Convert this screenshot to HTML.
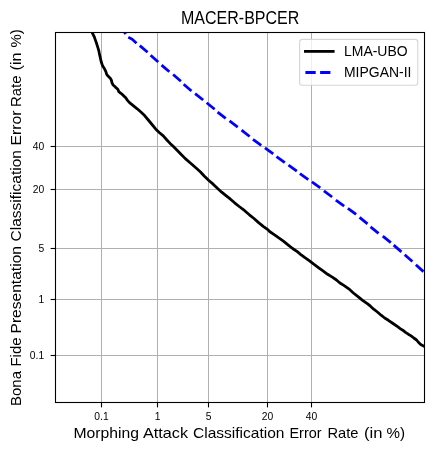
<!DOCTYPE html>
<html><head><meta charset="utf-8"><style>
html,body{margin:0;padding:0;background:#fff;}
svg{display:block;will-change:transform;}
text{font-family:"Liberation Sans", sans-serif;}
</style></head><body>
<svg width="434" height="451" viewBox="0 0 434 451">
<rect x="0" y="0" width="434" height="451" fill="#fff"/>
<defs><clipPath id="ax"><rect x="55.5" y="32.5" width="369.0" height="370.0"/></clipPath></defs>

<g stroke="#b0b0b0" stroke-width="1"><line x1="101.5" y1="32.5" x2="101.5" y2="402.5"/><line x1="157.5" y1="32.5" x2="157.5" y2="402.5"/><line x1="208.5" y1="32.5" x2="208.5" y2="402.5"/><line x1="267.5" y1="32.5" x2="267.5" y2="402.5"/><line x1="311.5" y1="32.5" x2="311.5" y2="402.5"/><line x1="55.5" y1="146.5" x2="424.5" y2="146.5"/><line x1="55.5" y1="189.5" x2="424.5" y2="189.5"/><line x1="55.5" y1="248.5" x2="424.5" y2="248.5"/><line x1="55.5" y1="299.5" x2="424.5" y2="299.5"/><line x1="55.5" y1="355.5" x2="424.5" y2="355.5"/></g>
<g clip-path="url(#ax)"><polyline points="91.60,30.00 92.30,32.80 94.30,36.90 95.50,40.40 96.70,43.80 97.80,47.30 98.80,50.70 99.50,54.20 100.30,57.80 100.90,60.50 101.70,63.30 102.70,66.10 104.50,68.80 105.85,71.60 106.70,74.40 108.50,76.60 110.50,78.60 111.50,80.50 111.90,82.60 112.90,84.70 115.40,87.10 117.80,89.20 118.80,91.60 120.90,93.30 123.30,95.40 125.70,97.80 127.50,100.40 129.50,102.60 131.70,104.40 137.20,108.80 140.90,112.00 144.60,115.60 148.30,120.00 152.00,124.50 155.60,128.90 159.50,132.70 163.30,135.90 166.90,140.00 170.10,143.40 173.40,146.60 177.10,150.30 181.20,154.40 185.30,158.60 189.50,162.30 194.10,166.30 197.80,169.50 200.50,172.00 204.20,176.00 208.60,180.20 213.40,184.40 217.10,188.00 221.70,192.20 226.30,195.90 230.50,199.20 234.60,202.80 239.20,206.50 244.70,210.70 249.40,214.80 254.00,218.50 258.60,222.60 263.20,226.30 267.80,229.60 269.60,231.50 274.20,234.70 278.80,237.90 283.40,241.10 288.00,244.80 292.60,248.50 297.30,251.70 300.50,254.30 304.60,257.40 309.20,260.60 313.80,264.20 318.40,267.60 323.00,270.90 327.60,274.30 332.30,277.10 336.50,280.00 339.60,282.80 344.20,285.60 348.80,288.80 353.40,293.00 358.00,296.70 362.60,300.30 367.30,303.60 370.50,306.20 373.70,309.20 377.40,312.00 381.10,315.20 384.70,318.00 388.40,320.30 393.00,323.50 397.60,326.70 400.20,328.60 402.80,330.20 405.50,332.40 408.30,334.20 411.10,335.90 413.80,338.00 416.60,340.00 418.70,342.60 420.70,344.50 423.50,345.90 426.00,347.20" fill="none" stroke="#000" stroke-width="2.78" stroke-linejoin="round" stroke-linecap="butt"/>
<g stroke="#0000ff" stroke-width="2.78" stroke-linecap="butt" stroke-linejoin="round" fill="none"><path d="M120.46,25.20L125.60,34.10"/><path d="M128.3,37.35L132.2,39.3L136.5,43.2"/><path d="M139.79,45.61L147.61,52.29"/><path d="M150.57,55.22L158.23,62.08"/><path d="M161.54,65.07L169.36,71.73"/><path d="M173.12,74.53L180.88,81.27"/><path d="M183.64,84.26L191.46,90.94"/><path d="M195.08,93.60L203.12,100.00"/><path d="M206.67,102.75L214.63,109.25"/><path d="M217.60,112.08L225.70,118.42"/><path d="M229.55,120.90L237.75,127.10"/><path d="M241.56,130.18L249.64,136.52"/><path d="M252.98,139.33L261.22,145.47"/><path d="M264.95,147.81L273.25,153.89"/><path d="M276.51,156.60L284.79,162.70"/><path d="M288.49,165.18L296.81,171.22"/><path d="M299.91,173.72L308.29,179.68"/><path d="M311.93,181.90L320.27,187.90"/><path d="M323.91,190.79L332.09,197.01"/><path d="M335.85,200.07L344.15,206.13"/><path d="M347.87,208.33L356.13,214.47"/><path d="M359.59,217.32L367.51,223.88"/><path d="M370.55,226.87L378.55,233.33"/><path d="M382.79,236.19L390.81,242.61"/><path d="M393.66,245.14L401.44,251.86"/><path d="M404.71,254.73L412.39,261.57"/><path d="M415.84,264.75L423.46,271.65"/><path d="M426.75,274.63L434.37,281.53"/></g></g>
<rect x="55.5" y="32.5" width="369.0" height="370.0" fill="none" stroke="#000" stroke-width="1.1" stroke-linejoin="miter"/>
<g stroke="#000" stroke-width="1.1"><line x1="101.5" y1="402.5" x2="101.5" y2="407.4"/><line x1="157.5" y1="402.5" x2="157.5" y2="407.4"/><line x1="208.5" y1="402.5" x2="208.5" y2="407.4"/><line x1="267.5" y1="402.5" x2="267.5" y2="407.4"/><line x1="311.5" y1="402.5" x2="311.5" y2="407.4"/><line x1="55.5" y1="146.5" x2="50.6" y2="146.5"/><line x1="55.5" y1="189.5" x2="50.6" y2="189.5"/><line x1="55.5" y1="248.5" x2="50.6" y2="248.5"/><line x1="55.5" y1="299.5" x2="50.6" y2="299.5"/><line x1="55.5" y1="355.5" x2="50.6" y2="355.5"/></g>
<g font-size="10.3" fill="#000"><text x="101.5" y="419.6" text-anchor="middle">0.1</text><text x="157.5" y="419.6" text-anchor="middle">1</text><text x="208.5" y="419.6" text-anchor="middle">5</text><text x="267.5" y="419.6" text-anchor="middle">20</text><text x="311.5" y="419.6" text-anchor="middle">40</text><text x="44.2" y="150.2" text-anchor="end">40</text><text x="44.2" y="193.2" text-anchor="end">20</text><text x="44.2" y="252.2" text-anchor="end">5</text><text x="44.2" y="303.2" text-anchor="end">1</text><text x="44.2" y="359.2" text-anchor="end">0.1</text></g>
<text x="240.15" y="23.7" text-anchor="middle" font-size="18" textLength="118.2" lengthAdjust="spacingAndGlyphs" fill="#000">MACER-BPCER</text>
<g font-size="14.4" fill="#000"><text x="73.5" y="437.9" textLength="65.5" lengthAdjust="spacingAndGlyphs">Morphing</text><text x="143.0" y="437.9" textLength="45.0" lengthAdjust="spacingAndGlyphs">Attack</text><text x="193.0" y="437.9" textLength="91.5" lengthAdjust="spacingAndGlyphs">Classification</text><text x="289.5" y="437.9" textLength="32.0" lengthAdjust="spacingAndGlyphs">Error</text><text x="327.5" y="437.9" textLength="31.0" lengthAdjust="spacingAndGlyphs">Rate</text><text x="364.0" y="437.9" textLength="18.5" lengthAdjust="spacingAndGlyphs">(in</text><text x="386.5" y="437.9" textLength="18.5" lengthAdjust="spacingAndGlyphs">%)</text></g>
<g font-size="14.4" fill="#000"><text transform="translate(20.9,406.0) rotate(-90)" x="0" y="0" textLength="35.0" lengthAdjust="spacingAndGlyphs">Bona</text><text transform="translate(20.9,366.5) rotate(-90)" x="0" y="0" textLength="29.0" lengthAdjust="spacingAndGlyphs">Fide</text><text transform="translate(20.9,333.5) rotate(-90)" x="0" y="0" textLength="87.5" lengthAdjust="spacingAndGlyphs">Presentation</text><text transform="translate(20.9,241.5) rotate(-90)" x="0" y="0" textLength="91.5" lengthAdjust="spacingAndGlyphs">Classification</text><text transform="translate(20.9,145.5) rotate(-90)" x="0" y="0" textLength="35.0" lengthAdjust="spacingAndGlyphs">Error</text><text transform="translate(20.9,107.0) rotate(-90)" x="0" y="0" textLength="31.5" lengthAdjust="spacingAndGlyphs">Rate</text><text transform="translate(20.9,70.5) rotate(-90)" x="0" y="0" textLength="18.0" lengthAdjust="spacingAndGlyphs">(in</text><text transform="translate(20.9,47.5) rotate(-90)" x="0" y="0" textLength="18.2" lengthAdjust="spacingAndGlyphs">%)</text></g>
<rect x="299.6" y="39.4" width="118.2" height="45.8" rx="2.78" ry="2.78" fill="#fff" fill-opacity="0.8" stroke="#cccccc" stroke-opacity="0.8" stroke-width="1.1"/>
<line x1="305.4" y1="51.4" x2="333.2" y2="51.4" stroke="#000" stroke-width="2.78" stroke-linecap="square"/>
<line x1="305.4" y1="72.5" x2="333.2" y2="72.5" stroke="#0000ff" stroke-width="2.78" stroke-dasharray="10.28 4.44"/>
<text x="344" y="55.7" text-anchor="start" font-size="14.4" textLength="63.6" lengthAdjust="spacingAndGlyphs" fill="#000">LMA-UBO</text>
<text x="344" y="76.7" text-anchor="start" font-size="14.4" textLength="67.4" lengthAdjust="spacingAndGlyphs" fill="#000">MIPGAN-II</text>
</svg></body></html>
